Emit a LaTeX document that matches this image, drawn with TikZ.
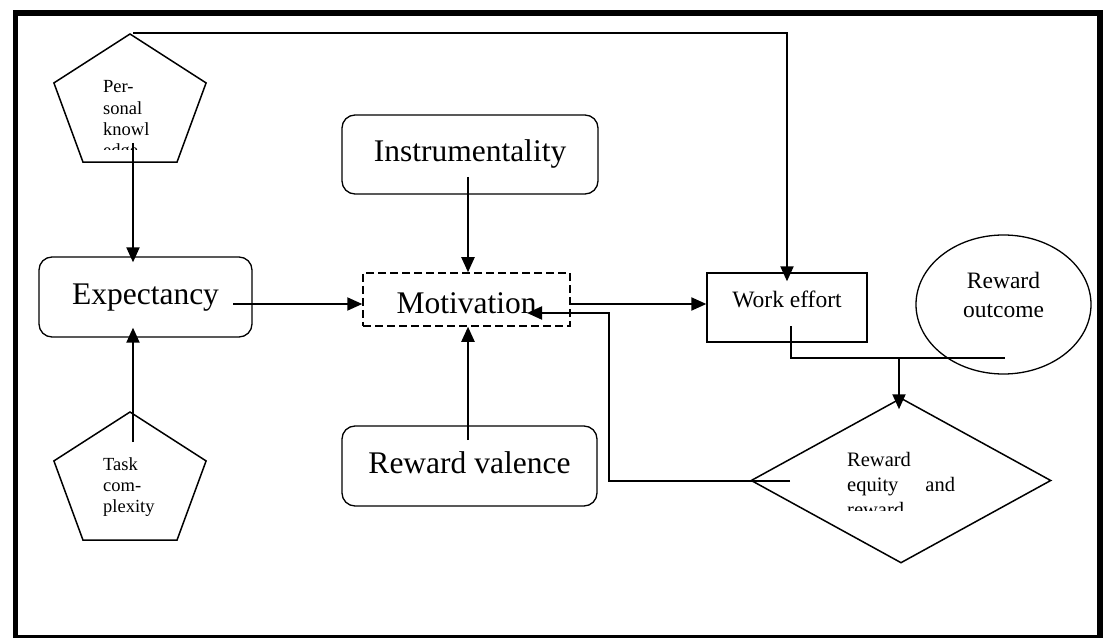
\documentclass[tikz,border=0pt]{standalone}
\usepackage{fontspec}
\setmainfont{Liberation Serif}
\usetikzlibrary{shapes.geometric,arrows.meta}
\begin{document}
\begin{tikzpicture}[x=1pt,y=-1pt,
    bigbox/.style={draw,rounded corners=13pt,line width=1.3pt,font=\fontsize{31.5}{38}\selectfont,text height=22pt,text depth=7pt},
    midfont/.style={font=\fontsize{23.5}{29}\selectfont},
    penta/.style={draw,regular polygon,regular polygon sides=5,minimum size=141.6pt,inner sep=0pt,line width=1.5pt,xscale=1.13,transform shape},
    smalltext/.style={align=left,anchor=base west,inner sep=0pt,font=\fontsize{18.5}{21.3}\selectfont},
    arr/.style={line width=2pt,-{Triangle[length=15pt,width=13pt]}},
    link/.style={line width=2pt}]
                        \useasboundingbox (0,0) rectangle (1109,639);
                        \draw [line width=5.5pt] (15.5,636) -- (15.5,13) -- (1100,13) -- (1100,636);
                        \draw [line width=3pt] (13,636.5) -- (1103,636.5);
                        \node [penta] (pk) at (130,104.8) {};
                        \node [penta] (tc) at (130,482.8) {};
                        \node [bigbox,minimum width=213pt,minimum height=80pt] (exp) at (145.5,297) {Expectancy};
                        \node [bigbox,minimum width=256pt,minimum height=79pt] (ins) at (470,154.5) {Instrumentality};
                        \node [bigbox,minimum width=255pt,minimum height=80pt] (val) at (469.5,466) {Reward valence};
                        \node [draw,dash pattern=on 8pt off 4pt,line width=1.5pt,minimum width=207pt,minimum height=53pt,
                               font=\fontsize{31.5}{38}\selectfont,text height=28pt,text depth=1pt] (mot) at (466.5,299.5) {Motivation};
                        \node [draw,midfont,line width=1.3pt,minimum width=160pt,minimum height=69pt,text height=10pt,text depth=10pt] (we) at (787,307.5) {Work effort};
                        \node [draw,ellipse,midfont,align=center,line width=1.3pt,minimum width=175pt,minimum height=139pt,text depth=20pt] (ro) at (1003.5,304.5) {Reward\\outcome};
                        \node [draw,diamond,line width=1.5pt,minimum width=300pt,minimum height=165pt,inner sep=0pt] (rq) at (901,480.5) {};
                        \begin{scope}
                        \clip (95,70) rectangle (200,150);
                        \node [smalltext] (pktext) at (103,156.9) {Per-\\sonal\\knowl\\edge};
                        \end{scope}
                        \node [smalltext] (tctext) at (103,512.6) {Task\\com-\\plexity};
                        \begin{scope}
                        \clip (840,440) rectangle (970,510);
                        \node [smalltext,font=\fontsize{20.5}{25}\selectfont] (rqtext) at (847,516.7) {Reward\\equity\hspace{27pt}and\\reward};
                        \end{scope}
                        \coordinate (pkout) at (133,143);
                        \coordinate (tcout) at (133,442);
                        \coordinate (expout) at (233,304);
                        \coordinate (insout) at (468,177);
                        \coordinate (valout) at (468,440);
                        \coordinate (motout) at (571,304);
                        \coordinate (weout) at (791,326);
                        \coordinate (roin) at (1005,358);
                        \coordinate (join) at (899,358);
                        \coordinate (rqout) at (790,481);
                        \coordinate (fbcorner) at (609,481);
                        \coordinate (motin) at (527,313);
                        \draw [arr] (pkout) -- ([yshift=-6pt]pkout |- exp.north);
                        \draw [arr] (tcout) -- ([yshift=10pt]tcout |- exp.south);
                        \draw [arr] (expout) -- (expout -| mot.west);
                        \draw [arr] (insout) -- (insout |- mot.north);
                        \draw [arr] (valout) -- (valout |- mot.south);
                        \draw [arr] (motout) -- (motout -| we.west);
                        \draw [arr] ([xshift=3pt]pk.corner 1) -| ([yshift=-9pt]we.north);
                        \draw [link] (weout) |- (roin);
                        \draw [arr] (join) -- ([yshift=-12pt]join |- rq.north);
                        \draw [arr] (rqout) -- (fbcorner) |- (motin);
\end{tikzpicture}
\end{document}
